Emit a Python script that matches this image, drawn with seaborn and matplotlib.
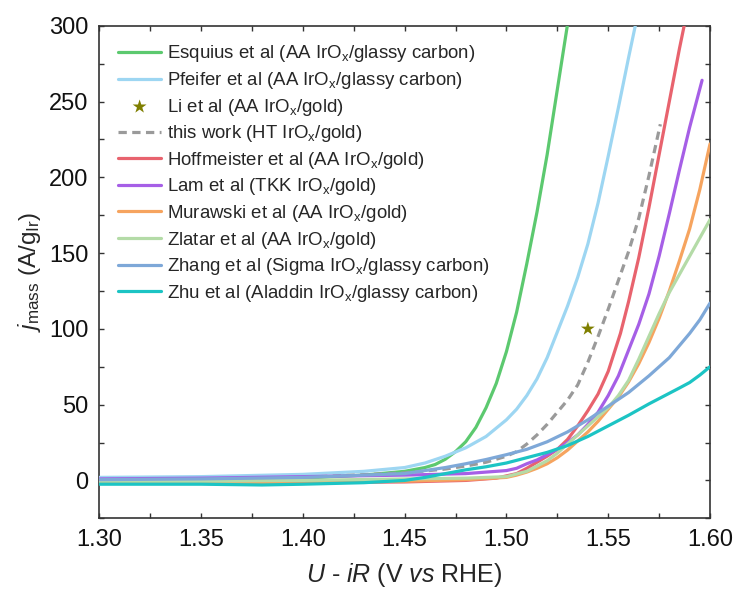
import matplotlib
matplotlib.use("Agg")
import matplotlib.pyplot as plt
from matplotlib.ticker import MultipleLocator, FormatStrFormatter
import seaborn as sns
import pandas as pd

# Mass-normalised OER activity of iridium oxide catalysts (A per g Ir) vs iR-corrected potential
esquius_v = [1.30, 1.35, 1.40, 1.43, 1.45, 1.46, 1.465, 1.47, 1.475, 1.48, 1.485, 1.49, 1.495,
             1.50, 1.505, 1.51, 1.515, 1.52, 1.525, 1.5299]
esquius_j = [0.0, 0.5, 1.5, 3.5, 6.0, 8.5, 10.5, 14.0, 19.0, 25.5, 35.0, 48.0, 64.0,
             85.0, 111.0, 143.0, 177.0, 215.0, 258.0, 300.0]

pfeifer_v = [1.30, 1.35, 1.40, 1.43, 1.45, 1.46, 1.47, 1.48, 1.49, 1.50, 1.505, 1.51, 1.515,
             1.52, 1.525, 1.53, 1.535, 1.54, 1.545, 1.55, 1.555, 1.56, 1.5633]
pfeifer_j = [2.0, 2.5, 4.0, 6.0, 8.5, 11.5, 16.0, 21.5, 29.0, 40.0, 47.0, 56.0, 67.0,
             81.0, 98.0, 115.0, 134.0, 156.0, 183.0, 214.0, 246.0, 279.0, 300.0]

li_v = [1.54]
li_j = [100.0]

this_work_v = [1.30, 1.35, 1.40, 1.45, 1.47, 1.48, 1.49, 1.50, 1.505, 1.51, 1.515, 1.52, 1.525,
               1.53, 1.535, 1.54, 1.545, 1.55, 1.555, 1.56, 1.565, 1.57, 1.5756]
this_work_j = [0.0, 0.5, 2.0, 5.0, 7.5, 9.5, 12.0, 16.0, 19.0, 24.0, 30.0, 37.0, 45.0,
               53.0, 63.0, 78.0, 95.0, 113.0, 132.0, 151.0, 173.0, 201.0, 235.0]

hoffmeister_v = [1.30, 1.35, 1.40, 1.45, 1.48, 1.495, 1.505, 1.51, 1.515, 1.52, 1.525, 1.53,
                 1.535, 1.54, 1.545, 1.55, 1.556, 1.56, 1.565, 1.57, 1.575, 1.58, 1.585, 1.5873]
hoffmeister_j = [-1.0, -1.5, -1.5, -1.0, 0.0, 1.5, 4.5, 8.0, 12.0, 16.0, 20.5, 27.0,
                 36.0, 46.0, 57.0, 72.0, 97.0, 118.0, 147.0, 180.0, 215.0, 250.0, 285.0, 300.0]

lam_v = [1.30, 1.35, 1.40, 1.45, 1.48, 1.49, 1.50, 1.505, 1.51, 1.515, 1.52, 1.525, 1.53,
         1.535, 1.54, 1.545, 1.55, 1.555, 1.56, 1.565, 1.57, 1.575, 1.58, 1.585, 1.59, 1.5961]
lam_j = [1.0, 1.5, 2.5, 3.5, 4.5, 5.5, 6.5, 8.0, 11.0, 13.5, 17.0, 20.5, 25.0,
         30.0, 37.0, 45.0, 56.0, 69.0, 86.0, 103.0, 123.0, 148.0, 176.0, 205.0, 233.0, 264.0]

murawski_v = [1.30, 1.35, 1.40, 1.45, 1.48, 1.50, 1.505, 1.51, 1.515, 1.52, 1.525, 1.53, 1.535,
              1.54, 1.545, 1.55, 1.555, 1.56, 1.565, 1.57, 1.575, 1.58, 1.585, 1.59, 1.595, 1.60]
murawski_j = [-1.0, -1.5, -1.5, -0.5, 0.5, 2.0, 3.5, 5.5, 8.0, 11.0, 15.0, 20.0, 26.0,
              32.0, 39.0, 47.0, 55.0, 65.0, 77.0, 91.0, 107.0, 125.0, 145.0, 166.0, 192.0, 222.0]

zlatar_v = [1.30, 1.35, 1.40, 1.45, 1.48, 1.50, 1.51, 1.52, 1.525, 1.53, 1.535, 1.54, 1.545,
            1.55, 1.555, 1.56, 1.565, 1.57, 1.575, 1.58, 1.585, 1.59, 1.595, 1.60]
zlatar_j = [-0.5, -0.5, 0.0, 1.0, 1.5, 2.5, 6.0, 13.0, 18.0, 24.0, 30.0, 36.0, 42.0,
            48.0, 56.0, 66.0, 80.0, 95.0, 110.0, 124.0, 136.0, 148.0, 160.0, 172.0]

zhang_v = [1.30, 1.35, 1.40, 1.45, 1.47, 1.48, 1.49, 1.50, 1.51, 1.52, 1.53, 1.54, 1.55,
           1.56, 1.57, 1.58, 1.59, 1.595, 1.60]
zhang_j = [0.5, 1.0, 2.0, 4.5, 8.5, 11.0, 13.8, 17.0, 20.5, 25.5, 32.0, 40.0, 49.0,
           58.0, 69.0, 81.0, 97.0, 106.0, 117.0]

zhu_v = [1.30, 1.35, 1.38, 1.40, 1.43, 1.45, 1.46, 1.47, 1.48, 1.49, 1.50, 1.51, 1.52, 1.53,
         1.54, 1.55, 1.56, 1.57, 1.575, 1.58, 1.585, 1.59, 1.595, 1.60]
zhu_j = [-2.5, -2.5, -3.0, -2.5, -1.5, 0.0, 2.0, 4.5, 7.0, 9.0, 11.5, 15.0, 18.5, 23.0,
         29.0, 36.0, 43.0, 50.5, 54.0, 57.5, 61.0, 64.6, 69.5, 75.0]

series_names = [
    "Esquius et al (AA IrO$_x$/glassy carbon)",
    "Pfeifer et al (AA IrO$_x$/glassy carbon)",
    "Li et al (AA IrO$_x$/gold)",
    "this work (HT IrO$_x$/gold)",
    "Hoffmeister et al (AA IrO$_x$/gold)",
    "Lam et al (TKK IrO$_x$/gold)",
    "Murawski et al (AA IrO$_x$/gold)",
    "Zlatar et al (AA IrO$_x$/gold)",
    "Zhang et al (Sigma IrO$_x$/glassy carbon)",
    "Zhu et al (Aladdin IrO$_x$/glassy carbon)",
]
series_colors = ["#5CC96F", "#9DD6F2", "#7F7F00", "#9A9A9A", "#E8636E",
                 "#A65FE6", "#F6A45F", "#B4DBA7", "#7EA8D8", "#1CC4C4"]

curves = [
    (esquius_v, esquius_j), (pfeifer_v, pfeifer_j), None, (this_work_v, this_work_j),
    (hoffmeister_v, hoffmeister_j), (lam_v, lam_j), (murawski_v, murawski_j),
    (zlatar_v, zlatar_j), (zhang_v, zhang_j), (zhu_v, zhu_j),
]

sns.set_style("ticks")
plt.rcParams["font.family"] = ["Liberation Sans", "DejaVu Sans"]
plt.rcParams["mathtext.fontset"] = "custom"
plt.rcParams["mathtext.rm"] = "Liberation Sans"
plt.rcParams["mathtext.it"] = "Liberation Sans:italic"
plt.rcParams["mathtext.default"] = "regular"

fig = plt.figure(figsize=(7.36, 5.90), dpi=100)
ax = fig.add_axes([0.1349, 0.1215, 0.8298, 0.8349])

for i, name in enumerate(series_names):
    if curves[i] is None:
        continue
    v, j = curves[i]
    df = pd.DataFrame({"v": v, "j": j})
    style = (0, (2.6, 1.7)) if i == 3 else "-"
    sns.lineplot(data=df, x="v", y="j", ax=ax, color=series_colors[i], lw=2.3,
                 linestyle=style, estimator=None, sort=False, label=name, zorder=3)

star_df = pd.DataFrame({"v": li_v, "j": li_j})
sns.scatterplot(data=star_df, x="v", y="j", ax=ax, marker="*", s=110,
                color=series_colors[2], edgecolor="none", label=series_names[2], zorder=4)

ax.set_xlim(1.30, 1.60)
ax.set_ylim(-25, 300)
ax.xaxis.set_major_locator(MultipleLocator(0.05))
ax.xaxis.set_minor_locator(MultipleLocator(0.025))
ax.xaxis.set_major_formatter(FormatStrFormatter("%.2f"))
ax.yaxis.set_major_locator(MultipleLocator(50))
ax.yaxis.set_minor_locator(MultipleLocator(25))
ax.tick_params(which="both", direction="in", top=True, right=True,
               length=3.6, width=1.0, color="#333333")
ax.tick_params(which="major", labelsize=17, pad=8, labelcolor="#111111")
for sp in ax.spines.values():
    sp.set_linewidth(1.2)
    sp.set_color("#333333")

ax.set_xlabel(r"$\mathit{U}$ - $\mathit{iR}$ (V $\mathit{vs}$ RHE)", fontsize=18, labelpad=7)
ax.set_ylabel(r"$\mathit{j}_{mass}$ (A/g$_{Ir}$)", fontsize=17.5, labelpad=4)

handles, labels = ax.get_legend_handles_labels()
lookup = dict(zip(labels, handles))
ax.legend([lookup[n] for n in series_names], series_names, loc="upper left",
          bbox_to_anchor=(0.031, 0.964), frameon=False, fontsize=13.4,
          borderpad=0, borderaxespad=0, handlelength=2.3, handletextpad=0.3,
          labelspacing=0.3)

fig.savefig("out.png", dpi=100)
